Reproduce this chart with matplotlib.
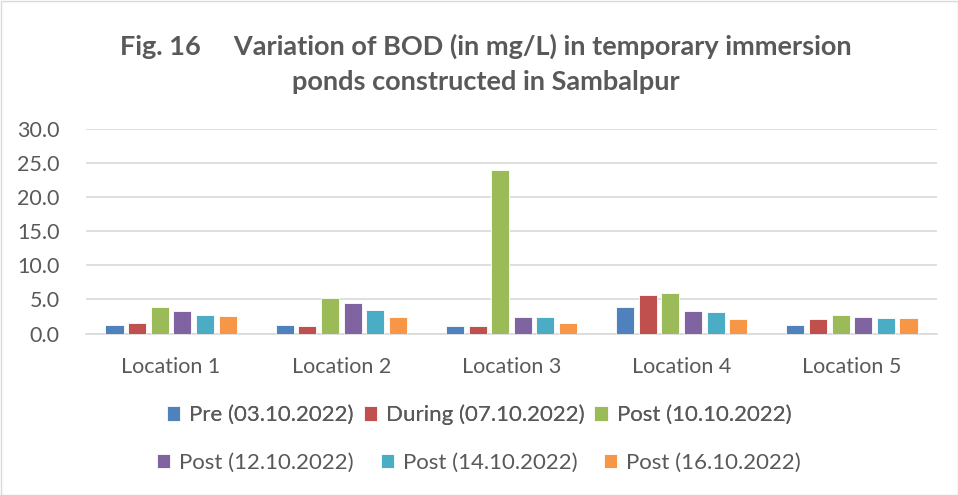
import matplotlib
matplotlib.use("Agg")
import matplotlib.pyplot as plt
import numpy as np
from matplotlib.patches import Rectangle

locations = ["Location 1", "Location 2", "Location 3", "Location 4", "Location 5"]
series_names = ["Pre (03.10.2022)", "During (07.10.2022)", "Post (10.10.2022)",
                "Post (12.10.2022)", "Post (14.10.2022)", "Post (16.10.2022)"]
pre_0310 = [1.2, 1.2, 1.1, 3.9, 1.2]
during_0710 = [1.55, 1.1, 1.1, 5.6, 2.1]
post_1010 = [3.9, 5.25, 24.0, 5.9, 2.7]
post_1210 = [3.25, 4.5, 2.4, 3.3, 2.4]
post_1410 = [2.7, 3.5, 2.4, 3.1, 2.3]
post_1610 = [2.5, 2.4, 1.5, 2.1, 2.25]
yticks = [0, 5, 10, 15, 20, 25, 30]

values = [pre_0310, during_0710, post_1010, post_1210, post_1410, post_1610]
colors = ["#4F81BD", "#C0504D", "#9BBB59", "#8064A2", "#4BACC6", "#F79646"]

plt.rcParams['font.family'] = ['Lato', 'DejaVu Sans']
txt = "#595959"
fs = 15.5
lfs = 16

fig = plt.figure(figsize=(9.58, 4.95), dpi=100)
ax = fig.add_axes([86/958, 1 - 333.5/495, (937 - 86)/958, (333.5 - 129.3)/495])

x = np.arange(len(locations))
pitch = 0.133
bw = 0.106
handles = []
for i, (vals, c) in enumerate(zip(values, colors)):
    off = (i - 2.5) * pitch
    b = ax.bar(x + off, vals, width=bw, color=c, edgecolor='white', linewidth=0.6, zorder=3)
    handles.append(b)

ax.set_xlim(-0.5, 4.5)
ax.set_ylim(0, 30)
ax.set_yticks(yticks)
ax.set_yticklabels([f"{v:.1f}" for v in yticks], fontsize=fs, color=txt)
ax.set_xticks(x)
ax.set_xticklabels(locations, fontsize=fs, color=txt)
ax.tick_params(axis='both', length=0)
ax.tick_params(axis='x', pad=17)
ax.tick_params(axis='y', pad=19)
ax.grid(axis='y', color='#D9D9D9', linewidth=1.2, zorder=0)
for s in ['top', 'right', 'left']:
    ax.spines[s].set_visible(False)
ax.spines['bottom'].set_color('#D9D9D9')
ax.spines['bottom'].set_linewidth(1.2)

fig.text(486/958, 1 - 46/495, "Fig. 16     Variation of BOD (in mg/L) in temporary immersion", ha='center', va='center',
         fontsize=19.5, fontweight='bold', color=txt)
fig.text(486/958, 1 - 82/495, "ponds constructed in Sambalpur", ha='center', va='center',
         fontsize=19.5, fontweight='bold', color=txt)

leg1 = fig.legend(handles[:3], series_names[:3], loc='center', bbox_to_anchor=(479/958, 1 - 415/495),
                  ncol=3, frameon=False, fontsize=lfs, handlelength=0.6, handleheight=0.6,
                  handletextpad=0.4, columnspacing=0.45, labelcolor=txt)
fig.add_artist(leg1)
leg2 = fig.legend(handles[3:], series_names[3:], loc='center', bbox_to_anchor=(479/958, 1 - 463/495),
                  ncol=3, frameon=False, fontsize=lfs, handlelength=0.6, handleheight=0.6,
                  handletextpad=0.4, columnspacing=1.2, labelcolor=txt)

fig.add_artist(Rectangle((0.5/958, 0.5/495), 1 - 1/958, 1 - 1/495, transform=fig.transFigure,
                         fill=False, edgecolor='#D9D9D9', linewidth=1))

fig.savefig("out.png", dpi=100)
